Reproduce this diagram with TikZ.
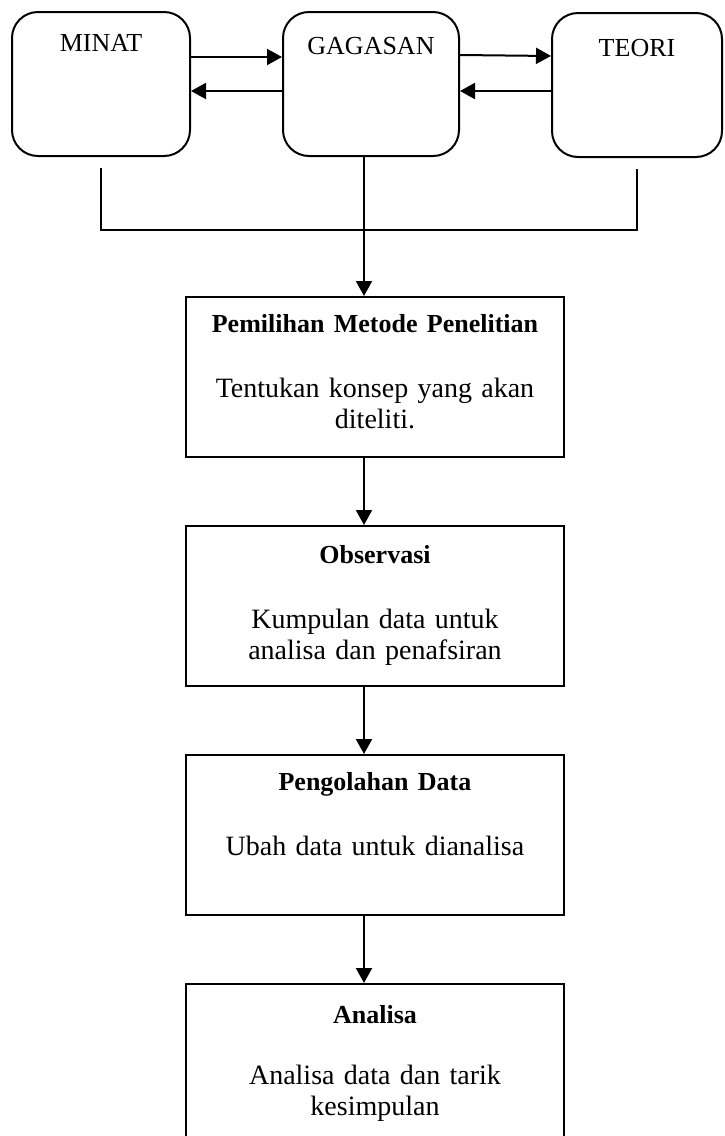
\documentclass[tikz,border=0pt]{standalone}
\usepackage{fontspec}
\setmainfont{Liberation Serif}
\usetikzlibrary{positioning, arrows.meta, calc}
\newcommand{\StepTitle}[1]{{\fontsize{13}{15.5}\selectfont\bfseries #1}}
\tikzset{
    topbox/.style={draw, line width=1pt, rounded corners=13pt, minimum height=72pt},
    stepbox/.style={draw, line width=1pt, minimum width=189pt, minimum height=80pt},
    toptext/.style={inner sep=0pt, font=\fontsize{13}{15}\selectfont},
    boxtext/.style={inner sep=0pt, text width=185pt, align=center, font=\fontsize{14}{15.5}\selectfont},
    flow/.style={-{Triangle[length=7.5pt, width=8pt]}, line width=1pt},
    link/.style={line width=1pt},
}

\begin{document}
\begin{tikzpicture}[x=0.5pt, y=-0.5pt]
    \useasboundingbox (0,0) rectangle (724,1136);
    \tikzset{node distance=33.5pt}

    \node[topbox, minimum width=89pt] (minat) at (101,84) {};
    \node[topbox, minimum width=88pt] (gagasan) at (371,84) {};
    \node[topbox, minimum width=85pt] (teori) at (637,85) {};
    \node[toptext, below=11.5pt of minat.north] (minatlbl) {MINAT};
    \node[toptext, below=13pt of gagasan.north] (gagasanlbl) {GAGASAN};
    \node[toptext, below=13.5pt of teori.north] (teorilbl) {TEORI};

    \draw[flow] ([yshift=13.5pt]minat.east) -- ([yshift=13.5pt]gagasan.west);
    \draw[flow] ([yshift=-3.5pt]gagasan.west) -- ([yshift=-3.5pt]minat.east);
    \draw[flow] ([yshift=14.5pt]gagasan.east) -- ([yshift=14.5pt]teori.east -| teori.west);
    \draw[flow] ([yshift=-3pt]teori.west) -- ([yshift=-3pt]teori.west -| gagasan.east);

    \node[stepbox] (pilih) at (375,377) {};
    \node[stepbox, below=of pilih] (obs) {};
    \node[stepbox, below=of obs] (olah) {};
    \node[stepbox, below=of olah, minimum height=110pt] (analisa) {};

    \coordinate (join) at (364,230);
    \draw[link] ([yshift=-5.5pt]minat.south) |- (join) -| ([yshift=-5.5pt]teori.south);
    \draw[link] (gagasan.south -| join) -- (join);
    \draw[flow] (join) -- (join |- pilih.north);
    \draw[flow] (join |- pilih.south) -- (join |- obs.north);
    \draw[flow] (join |- obs.south) -- (join |- olah.north);
    \draw[flow] (join |- olah.south) -- (join |- analisa.north);

    \node[boxtext, below=9pt of pilih.north] (pilihtxt)
        {\StepTitle{Pemilihan Metode Penelitian}\\[17pt]Tentukan konsep yang akan\\diteliti.};
    \node[boxtext, below=10pt of obs.north] (obstxt)
        {\StepTitle{Observasi}\\[17pt]Kumpulan data untuk\\analisa dan penafsiran};
    \node[boxtext, below=9pt of olah.north] (olahtxt)
        {\StepTitle{Pengolahan Data}\\[17pt]Ubah data untuk dianalisa};
    \node[boxtext, below=11pt of analisa.north] (analisatxt)
        {\StepTitle{Analisa}\\[15pt]Analisa data dan tarik\\kesimpulan};
\end{tikzpicture}
\end{document}
